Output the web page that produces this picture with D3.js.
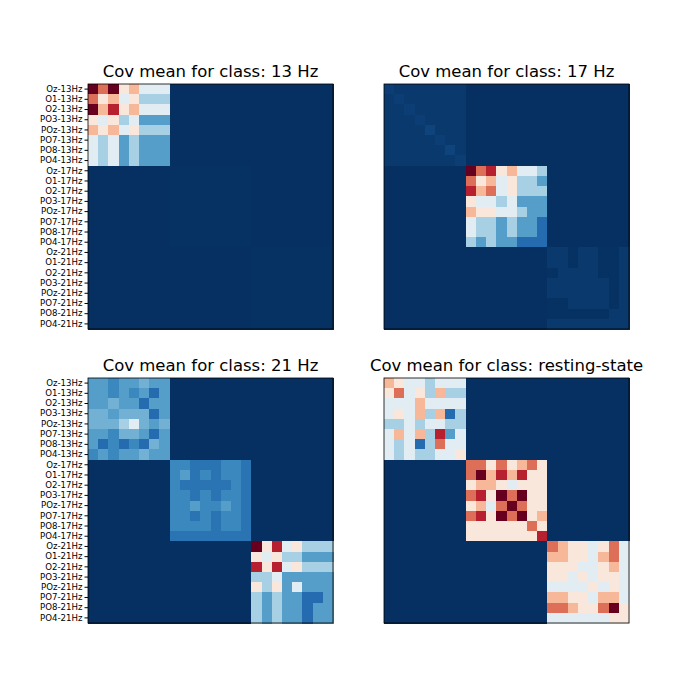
<!DOCTYPE html>
<html><head><meta charset="utf-8">
<script src="https://cdn.jsdelivr.net/npm/d3@7"></script>
<style>body{margin:0;background:#fff}</style></head>
<body><svg id="c" width="700" height="700"></svg>
<script>
const channels = ["Oz","O1","O2","PO3","POz","PO7","PO8","PO4"];
const freqs = ["13Hz","17Hz","21Hz"];
const classes = ["13 Hz","17 Hz","21 Hz","resting-state"];
// digit d -> value d/9 ; letters a..d faint, e/f/g mid blues
const block13_13 = ["97956444","75645333","96856444","54534222","65645333","43423222","43423222","43423222"];
const block13_17 = ["aaaaaaaa","aaaaaaaa","aaaaaaaa","aaaaaaaa","aaaaaaaa","aaaaaaaa","aaaaaaaa","aaaaaaaa"];
const block13_21 = ["aaaaaaaa","aaaaaaaa","aaaaaaaa","aaaaaaaa","aaaaaaaa","aaaaaaaa","aaaaaaaa","aaaaaaaa"];
const block17_13 = ["cbbbbbbb","bcbbbbbb","bbcbbbbb","bbbcbbbb","bbbbdbbb","bbbbbcbb","bbbbbbdb","bbbbbbbc"];
const block17_17 = ["97856443","75645332","86745333","54434222","65544322","43323221","43323221","32322111"];
const block17_21 = ["bbabbaab","bbabbaab","abbbbaab","bbbbbbab","bbbbbbab","aabbbbab","aaaaaabb","bbbbbbbb"];
const block21_13 = ["22f22g22","22f2f212","22g22122","gg2ggg12","ggg34g2g","22fgg212","21f1f1g2","f2f22g22"];
const block21_17 = ["ffeeeffe","f2efeffe","feeeeefe","ffefeffe","ff2ff2fe","ffefeffe","ffffeffe","eeeeeeee"];
const block21_21 = ["95845333","54533222","85845333","33422222","53524222","32322112","32322122","32322122"];
const blockRS_13 = ["65443444","57453633","44464444","45463613","33434433","46463824","43413744","43433445"];
const blockRS_17 = ["77575675","79686855","56654555","78597955","56479755","78597956","55555575","55555558"];
const blockRS_21 = ["76554574","66554674","55544564","55454554","44445454","66554664","77655795","44444455"];
const panelBlocks = [
  [block13_13, block13_17, block13_21],
  [block17_13, block17_17, block17_21],
  [block21_13, block21_17, block21_21],
  [blockRS_13, blockRS_17, blockRS_21]];
const labels = [];
freqs.forEach(f => channels.forEach(c => labels.push(c + "-" + f)));

function val(ch){ if(ch>="0"&&ch<="9") return (+ch)/9; return {a:0.003,b:0.016,c:0.026,d:0.036,e:0.13,f:0.175,g:0.26}[ch]||0; }
function matrix(blocks){
  const n=24, m=[];
  for(let i=0;i<n;i++) for(let j=0;j<n;j++){
    const bi=Math.floor(i/8), bj=Math.floor(j/8);
    let v=0;
    if(bi===bj) v=val(blocks[bi][i%8][j%8]);
    m.push({i,j,v});
  }
  return m;
}
const color = d3.scaleLinear()
  .domain([0,0.1,0.2,0.3,0.4,0.5,0.6,0.7,0.8,0.9,1])
  .range(["#053061","#2166ac","#4393c3","#92c5de","#d1e5f0","#f7f7f7","#fddbc7","#f4a582","#d6604d","#b2182b","#67001f"]);
const svg = d3.select("#c");
const origins = [[88,84],[384,84],[88,378],[384,378]];
const size = 245;
panelBlocks.forEach((blocks,p) => {
  const [ox,oy] = origins[p];
  const g = svg.append("g").attr("transform",`translate(${ox},${oy})`);
  const x = d3.scaleBand().domain(d3.range(24)).range([0,size]);
  const y = d3.scaleBand().domain(labels).range([0,size]);
  g.selectAll("rect").data(matrix(blocks)).join("rect")
    .attr("x",d=>x(d.j)).attr("y",d=>y(labels[d.i]))
    .attr("width",x.bandwidth()+0.6).attr("height",y.bandwidth()+0.6)
    .attr("shape-rendering","crispEdges")
    .attr("fill",d=>color(d.v));
  g.append("rect").attr("width",size).attr("height",size).attr("fill","none").attr("stroke","#000").attr("stroke-width",0.8);
  if(p%2===0){
    const ax = g.append("g").call(d3.axisLeft(y).tickSize(3.5).tickPadding(2));
    ax.select(".domain").remove();
    ax.selectAll("text").attr("font-family","DejaVu Sans").attr("font-size",8.6).attr("fill","#000");
  }
  g.append("text").attr("x",size/2).attr("y",-7).attr("text-anchor","middle")
    .attr("font-family","DejaVu Sans").attr("font-size",16.5).text("Cov mean for class: "+classes[p]);
});
</script></body></html>
